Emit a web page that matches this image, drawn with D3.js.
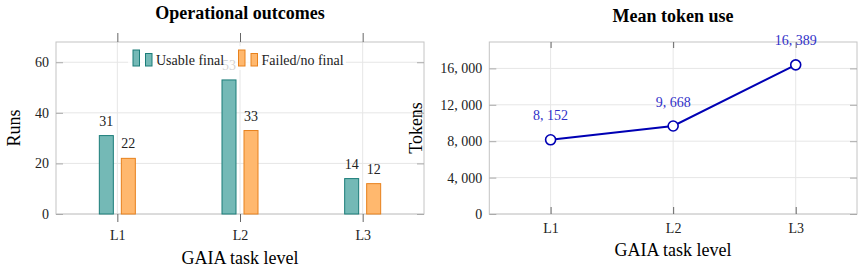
<!DOCTYPE html>
<html>
<head>
<meta charset="utf-8">
<script src="https://cdn.jsdelivr.net/npm/d3@7"></script>
<style>
  body { margin: 0; background: #fff; }
  svg { display: block; font-family: "Liberation Serif", "DejaVu Serif", serif; }
</style>
</head>
<body>
<svg id="chart" width="864" height="272"></svg>
<script>
// data
var levels = ["L1", "L2", "L3"];
var usableRuns = [31, 53, 14];
var failedRuns = [22, 33, 12];
var meanTokens = [8152, 9668, 16389];
var runTicks = [0, 20, 40, 60];
var tokenTicks = [0, 4000, 8000, 12000, 16000];

var svg = d3.select("#chart");
var gridColor = "#e6e6e6", frameColor = "#c4c4c4", tickColor = "#666";
var serif = "Liberation Serif, DejaVu Serif, serif";

// latex-ish thousands: "8, 152"
var fmt = function(v) { return d3.format(",")(v).replace(/,/g, ", "); };

function frame(g, x0, x1, y0, y1) {
    g.append("rect")
        .attr("x", x0).attr("y", y1)
        .attr("width", x1 - x0).attr("height", y0 - y1)
        .attr("fill", "none").attr("stroke", frameColor).attr("stroke-width", 1);
}

function grid(g, x, y, xs, ys) {
    var xr = x.range(), yr = y.range();
    g.selectAll(".gx").data(xs).enter().append("line")
        .attr("x1", function(d) { return x(d); }).attr("x2", function(d) { return x(d); })
        .attr("y1", yr[0]).attr("y2", yr[1])
        .attr("stroke", gridColor);
    g.selectAll(".gy").data(ys).enter().append("line")
        .attr("x1", xr[0]).attr("x2", xr[xr.length - 1])
        .attr("y1", function(d) { return y(d); }).attr("y2", function(d) { return y(d); })
        .attr("stroke", gridColor);
}

function styleAxis(a, col) {
    a.attr("font-family", serif).attr("font-size", 14);
    a.select(".domain").remove();
    a.selectAll("line").attr("stroke", col);
    a.selectAll("text").attr("fill", "#222");
}

/*
 *  Left panel: operational outcomes (grouped bars)
 */
var L = { left: 56, right: 424, top: 42, bottom: 214 };
var xL = d3.scalePoint().domain(levels).range([L.left, L.right]).padding(0.5);
var yL = d3.scaleLinear().domain([0, 68]).range([L.bottom, L.top]);
var gL = svg.append("g");

grid(gL, xL, yL, levels, runTicks);
frame(gL, L.left, L.right, L.bottom, L.top);

var series = [
    { name: "Usable final", values: usableRuns, shift: -11, fill: "#74b9b6", stroke: "#1b7d79" },
    { name: "Failed/no final", values: failedRuns, shift: 11, fill: "#ffb86e", stroke: "#e8811c" }
];
var barW = 14;

series.forEach(function(s) {
    gL.selectAll(null).data(s.values).enter().append("rect")
        .attr("x", function(d, i) { return xL(levels[i]) + s.shift - barW / 2; })
        .attr("y", function(d) { return yL(d); })
        .attr("width", barW)
        .attr("height", function(d) { return yL(0) - yL(d); })
        .attr("fill", s.fill).attr("stroke", s.stroke).attr("stroke-width", 1);
    gL.selectAll(null).data(s.values).enter().append("text")
        .attr("x", function(d, i) { return xL(levels[i]) + s.shift; })
        .attr("y", function(d) { return yL(d) - 10; })
        .attr("text-anchor", "middle")
        .style("font-size", "14px").attr("fill", "#222")
        .text(function(d) { return d; });
});

// axes
var ax = gL.append("g").attr("transform", "translate(0," + L.bottom + ")")
    .call(d3.axisBottom(xL).tickSize(8).tickPadding(8));
styleAxis(ax, tickColor);
ax = gL.append("g").attr("transform", "translate(0," + L.top + ")")
    .call(d3.axisTop(xL).tickSize(9).tickFormat(""));
styleAxis(ax, tickColor);
ax = gL.append("g").attr("transform", "translate(" + L.left + ",0)")
    .call(d3.axisLeft(yL).tickValues(runTicks).tickSize(-7).tickPadding(7));
styleAxis(ax, "#aaa");
ax = gL.append("g").attr("transform", "translate(" + L.right + ",0)")
    .call(d3.axisRight(yL).tickValues(runTicks).tickSize(-7).tickFormat(""));
styleAxis(ax, "#aaa");

// legend, semi transparent white box drawn on top
var leg = gL.append("g");
leg.append("rect").attr("x", 128).attr("y", 46).attr("width", 218).attr("height", 24)
    .attr("fill", "#fff").attr("fill-opacity", 0.8);
var legX = [133, 238.5];
series.forEach(function(s, i) {
    var lx = legX[i];
    leg.append("rect").attr("x", lx).attr("y", 50).attr("width", 6.5).attr("height", 16)
        .attr("fill", s.fill).attr("stroke", s.stroke);
    leg.append("rect").attr("x", lx + 12.5).attr("y", 53.5).attr("width", 6.5).attr("height", 12.5)
        .attr("fill", s.fill).attr("stroke", s.stroke);
    leg.append("text").attr("x", lx + 23).attr("y", 64.5)
        .style("font-size", "14px").attr("fill", "#222").text(s.name);
});

gL.append("text").attr("x", 240).attr("y", 19).attr("text-anchor", "middle")
    .style("font-size", "18px").style("font-weight", "bold").text("Operational outcomes");
gL.append("text").attr("x", 240).attr("y", 264).attr("text-anchor", "middle")
    .style("font-size", "18px").text("GAIA task level");
gL.append("text").attr("transform", "translate(20,128) rotate(-90)").attr("text-anchor", "middle")
    .style("font-size", "18px").text("Runs");

/*
 *  Right panel: mean token use (line)
 */
var R = { left: 489.3, right: 857, top: 42, bottom: 214 };
var xR = d3.scalePoint().domain(levels).range([R.left, R.right]).padding(0.5);
var yR = d3.scaleLinear().domain([0, 18900]).range([R.bottom, R.top]);
var gR = svg.append("g");

grid(gR, xR, yR, levels, tokenTicks);
frame(gR, R.left, R.right, R.bottom, R.top);

ax = gR.append("g").attr("transform", "translate(0," + R.bottom + ")")
    .call(d3.axisBottom(xR).tickSize(-7).tickPadding(9));
styleAxis(ax, tickColor);
ax = gR.append("g").attr("transform", "translate(0," + R.top + ")")
    .call(d3.axisTop(xR).tickSize(-6).tickFormat(""));
styleAxis(ax, tickColor);
ax = gR.append("g").attr("transform", "translate(" + R.left + ",0)")
    .call(d3.axisLeft(yR).tickValues(tokenTicks).tickSize(-7).tickPadding(7).tickFormat(fmt));
styleAxis(ax, "#aaa");
ax = gR.append("g").attr("transform", "translate(" + R.right + ",0)")
    .call(d3.axisRight(yR).tickValues(tokenTicks).tickSize(-7).tickFormat(""));
styleAxis(ax, "#aaa");

var line = d3.line()
    .x(function(d, i) { return xR(levels[i]); })
    .y(function(d) { return yR(d); });
gR.append("path").datum(meanTokens).attr("d", line)
    .attr("fill", "none").attr("stroke", "#0000b4").attr("stroke-width", 2);
gR.selectAll(".pt").data(meanTokens).enter().append("circle")
    .attr("cx", function(d, i) { return xR(levels[i]); })
    .attr("cy", function(d) { return yR(d); })
    .attr("r", 5).attr("fill", "#fff").attr("stroke", "#0000b4").attr("stroke-width", 1.6);
gR.selectAll(".lbl").data(meanTokens).enter().append("text")
    .attr("x", function(d, i) { return xR(levels[i]); })
    .attr("y", function(d) { return yR(d) - 19.5; })
    .attr("text-anchor", "middle")
    .style("font-size", "14px").attr("fill", "#3030c8")
    .text(fmt);

gR.append("text").attr("x", 673).attr("y", 21.5).attr("text-anchor", "middle")
    .style("font-size", "18px").style("font-weight", "bold").text("Mean token use");
gR.append("text").attr("x", 673).attr("y", 256).attr("text-anchor", "middle")
    .style("font-size", "18px").text("GAIA task level");
gR.append("text").attr("transform", "translate(422,128) rotate(-90)").attr("text-anchor", "middle")
    .style("font-size", "18px").text("Tokens");
</script>
</body>
</html>
